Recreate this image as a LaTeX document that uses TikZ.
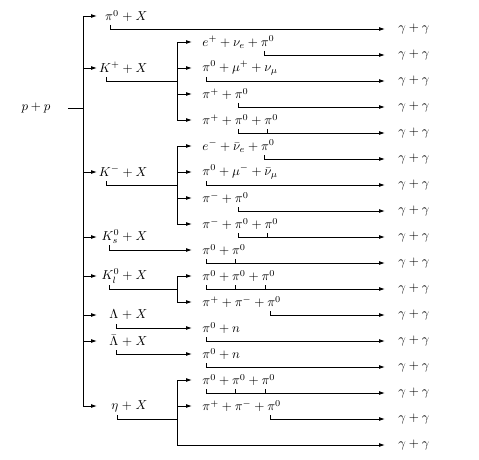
\documentclass[tikz,border=0pt]{standalone}
\usepackage{amsmath}
\usepackage{amssymb}
\usetikzlibrary{arrows.meta}

\begin{document}
\begin{tikzpicture}[x=0.77pt,y=-0.77pt,line width=0.7pt,
    arr/.style={-{Latex[length=4.5pt,width=3pt]}},
    lone/.style={anchor=west,inner sep=0pt,text width=38.5pt,align=right},
    ltwo/.style={anchor=west,inner xsep=7.7pt,inner ysep=0pt},
    gam/.style={anchor=west,inner xsep=10pt,inner ysep=0pt}]
  \useasboundingbox (0,0) rectangle (479,459);

  % initial state
  \node[inner xsep=13pt,inner ysep=0pt] (pp) at (36,108) {$p+p$};
  \coordinate (tr) at (83,108);
  \draw (pp.east) -- (tr);

  % first generation
  \node[lone] (pix) at (97,16) {$\pi^0+X$};
  \node[lone] (kp) at (97,68) {$K^+ + X$};
  \node[lone] (km) at (97,172) {$K^- + X$};
  \node[lone] (ks) at (97,237) {$K^0_s + X$};
  \node[lone] (kl) at (97,276) {$K^0_l + X$};
  \node[lone] (la) at (97,315) {$\Lambda + X$};
  \node[lone] (lb) at (97,341) {$\bar{\Lambda} + X$};
  \node[lone] (et) at (97,406) {$\eta + X$};
  \foreach \n in {pix,kp,km,ks,kl,la,lb,et}
    \draw[arr] (tr) |- (\n.west);

  % second generation
  \node[ltwo] (a1) at (192,42) {$e^+ + \nu_e + \pi^0$};
  \node[ltwo] (a2) at (192,68) {$\pi^0 + \mu^+ + \nu_\mu$};
  \node[ltwo] (a3) at (192,94) {$\pi^+ + \pi^0$};
  \node[ltwo] (a4) at (192,120) {$\pi^+ + \pi^0 + \pi^0$};
  \node[ltwo] (b1) at (192,146) {$e^- + \bar{\nu}_e + \pi^0$};
  \node[ltwo] (b2) at (192,172) {$\pi^0 + \mu^- + \bar{\nu}_\mu$};
  \node[ltwo] (b3) at (192,198) {$\pi^- + \pi^0$};
  \node[ltwo] (b4) at (192,224) {$\pi^- + \pi^0 + \pi^0$};
  \node[ltwo] (c1) at (192,250) {$\pi^0 + \pi^0$};
  \node[ltwo] (d1) at (192,276) {$\pi^0 + \pi^0 + \pi^0$};
  \node[ltwo] (d2) at (192,302) {$\pi^+ + \pi^- + \pi^0$};
  \node[ltwo] (e1) at (192,328) {$\pi^0 + n$};
  \node[ltwo] (f1) at (192,354) {$\pi^0 + n$};
  \node[ltwo] (h1) at (192,380) {$\pi^0 + \pi^0 + \pi^0$};
  \node[ltwo] (h2) at (192,406) {$\pi^+ + \pi^- + \pi^0$};

  % photons
  \foreach \i in {1,...,17}
    \node[gam] (g\i) at (385,3+26*\i) {$\gamma + \gamma$};

  % tick points under the decaying particles
  \foreach \x/\y/\n in {110/25/t0, 106/77/tkp, 106/181/tkm, 109/245/tks,
      109/285/tkl, 116/324/tla, 116/350/tlb, 117/415/tet,
      264/51/ta1, 206/77/ta2, 238/103/ta3, 238/129/ta4,
      264/155/tb1, 206/181/tb2, 238/207/tb3, 238/233/tb4,
      206/259/tc1, 206/285/td1, 270/311/td2, 206/337/te1,
      206/363/tf1, 206/389/th1, 270/415/th2}
    \coordinate (\n) at (\x,\y);
  \coordinate (jkp) at (177,81);
  \coordinate (jkm) at (177,185);
  \coordinate (jkl) at (177,289);
  \coordinate (jet) at (177,419);

  % decays
  \draw[arr] (t0) |- (g1.west);
  \draw (tkp) |- (jkp);
  \foreach \n in {a1,a2,a3,a4}
    \draw[arr] (jkp) |- (\n.west);
  \draw (tkm) |- (jkm);
  \foreach \n in {b1,b2,b3,b4}
    \draw[arr] (jkm) |- (\n.west);
  \draw[arr] (tks) |- (c1.west);
  \draw (tkl) |- (jkl);
  \foreach \n in {d1,d2}
    \draw[arr] (jkl) |- (\n.west);
  \draw[arr] (tla) |- (e1.west);
  \draw[arr] (tlb) |- (f1.west);
  \draw (tet) |- (jet);
  \foreach \n in {h1,h2,g17}
    \draw[arr] (jet) |- (\n.west);

  \foreach \t/\g in {ta1/g2, ta2/g3, ta3/g4, ta4/g5, tb1/g6, tb2/g7,
      tb3/g8, tb4/g9, tc1/g10, td1/g11, td2/g12, te1/g13, tf1/g14,
      th1/g15, th2/g16}
    \draw[arr] (\t) |- (\g.west);

  % extra ticks where two or three pions meet the line
  \foreach \x/\g in {267/g5, 267/g9, 235/g10, 235/g11, 265/g11,
      235/g15, 265/g15}
    \draw (\x,0 |- \g.west) -- ++(0,-4);
\end{tikzpicture}
\end{document}
